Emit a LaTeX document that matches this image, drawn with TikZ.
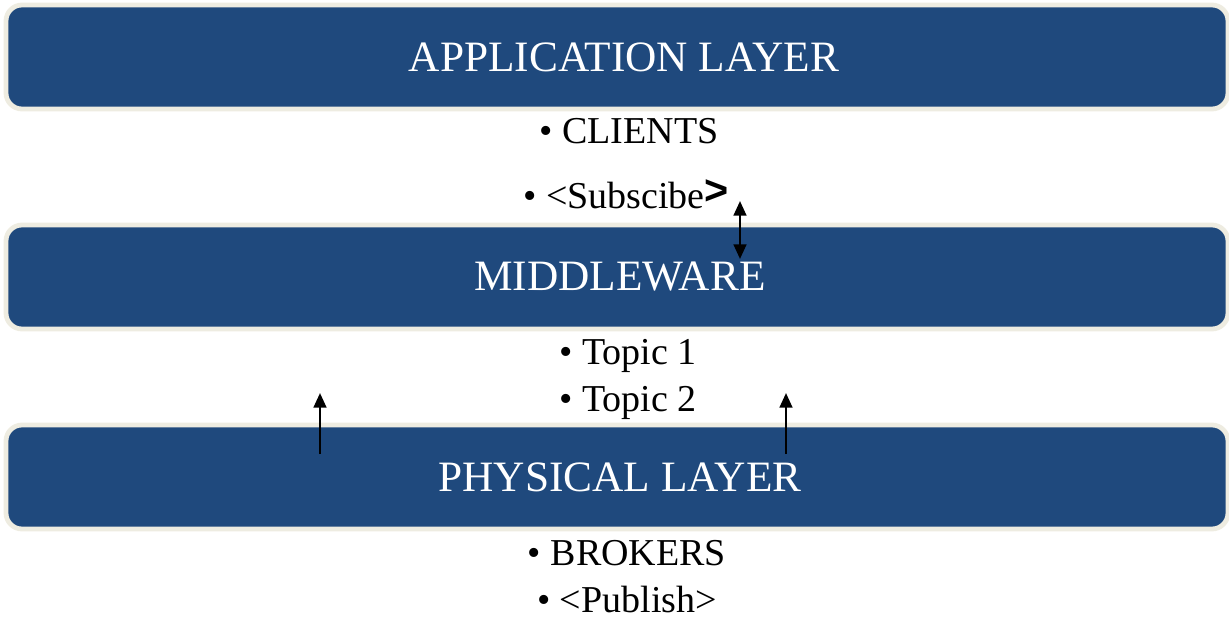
\documentclass[tikz,border=0pt]{standalone}
\usepackage{fontspec}
\setmainfont{Liberation Serif}
\newfontfamily\gtfont{Liberation Sans}
\usetikzlibrary{arrows.meta}
\definecolor{layerblue}{HTML}{1F497D}
\definecolor{layerrim}{HTML}{EEECE1}
\tikzset{
  layer/.style={rectangle, rounded corners=12pt, fill=layerblue, draw=layerrim,
    line width=3.6pt, minimum width=1222*0.75pt, minimum height=104*0.75pt,
    text=white, font=\fontsize{32.5}{36}\selectfont, inner sep=0pt},
  caption/.style={text=white, font=\fontsize{32.5}{36}\selectfont, inner sep=0pt},
  item/.style={font=\fontsize{28.5}{32}\selectfont, inner sep=0pt, text=black},
  flow/.style={line width=1.9pt, -{Triangle[length=11pt,width=9.5pt]}},
  twoway/.style={line width=1.9pt, {Triangle[length=11pt,width=9.5pt]}-{Triangle[length=11pt,width=9.5pt]}}
}
\begin{document}
\begin{tikzpicture}[x=0.75pt, y=-0.75pt]
  \useasboundingbox (0,0) rectangle (1229,617);

  % the three stacked layers
  \node[layer] (app) at (617,57) {};
  \node[layer] (mid) at (617,277) {};
  \node[layer] (phy) at (617,477) {};
  \node[caption] (applabel) at (624,57) {APPLICATION LAYER};
  \node[caption] (midlabel) at (620,277) {MIDDLEWARE};
  \node[caption] (phylabel) at (620,477) {PHYSICAL LAYER};

  % bullet items under each layer
  \node[item] (clients) at (629,131) {• CLIENTS};
  \node[item] (sub) at (626,194) {• <Subscibe\raisebox{3pt}{\gtfont\bfseries\fontsize{31}{34}\selectfont >}};
  \node[item] (topic1) at (628,356) {• Topic 1};
  \node[item] (topic2) at (628,403) {• Topic 2};
  \node[item] (brokers) at (627,553) {• BROKERS};
  \node[item] (pub) at (627,599) {• <Publish>};

  % connector end points
  \coordinate (subtop) at (740,201);
  \coordinate (midtop) at (740,259);
  \coordinate (phyl) at (320,454);
  \coordinate (midl) at (320,393);
  \coordinate (phyr) at (786,454);
  \coordinate (midr) at (786,393);

  \draw[twoway] (subtop) -- (midtop);
  \draw[flow] (phyl) -- (midl);
  \draw[flow] (phyr) -- (midr);
\end{tikzpicture}
\end{document}
